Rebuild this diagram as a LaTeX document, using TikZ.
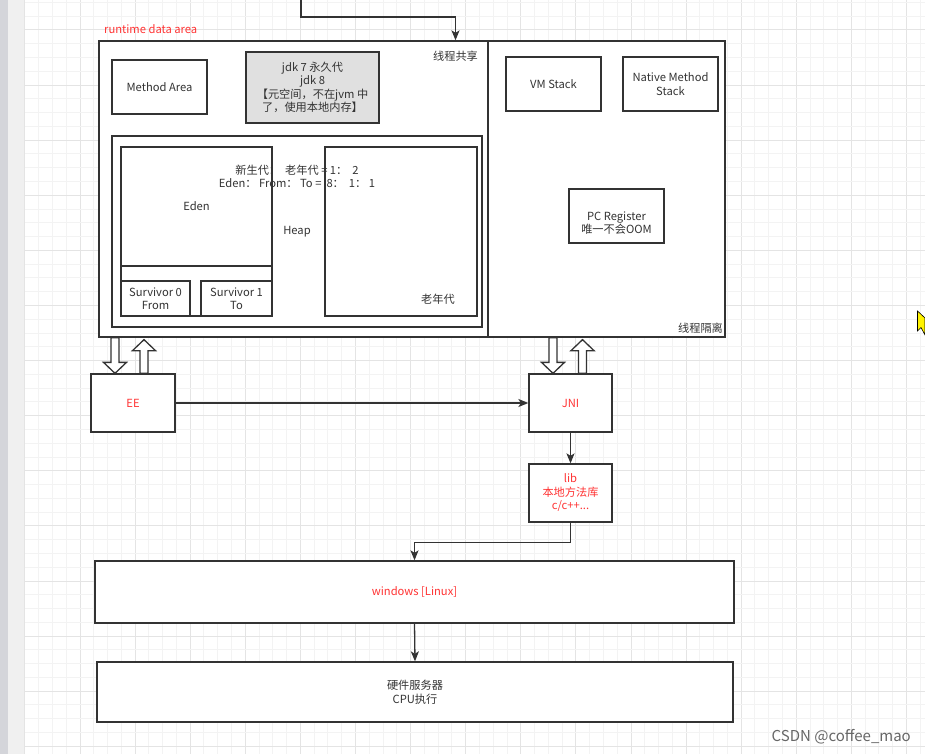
\documentclass[tikz,border=0pt]{standalone}
\usepackage{fontspec}
\setmainfont{Noto Sans CJK SC}
\usetikzlibrary{arrows.meta,calc}

\definecolor{inkgray}{HTML}{333333}
\definecolor{notered}{HTML}{FF3333}
\definecolor{jdkgray}{HTML}{E0E0E0}
\definecolor{gridminor}{HTML}{F3F3F3}
\definecolor{gridmajor}{HTML}{E4E4E4}
\definecolor{sidebar}{HTML}{D4D5DA}
\definecolor{sidepad}{HTML}{F0F0F0}

% hollow block arrow between two points on one vertical
\newcommand\fatarrow[2]{%
  \draw[hollow] let \p1=(#1), \p2=(#2), \n1={sign(\y2-\y1)} in
    ({\x1-4pt},\y1) -- ({\x1-4pt},{\y2-11pt*(\n1)}) -- ({\x1-11.5pt},{\y2-11pt*(\n1)})
    -- (\x1,\y2) -- ({\x1+11.5pt},{\y2-11pt*(\n1)}) -- ({\x1+4pt},{\y2-11pt*(\n1)})
    -- ({\x1+4pt},\y1) -- cycle;}

\begin{document}
\begin{tikzpicture}[x=1pt,y=-1pt,
    box/.style={draw=inkgray, line width=1.3pt, fill=white, inner sep=0pt,
      align=center, text=inkgray, font=\fontsize{11.2}{13.5}\selectfont},
    note/.style={text=inkgray, align=center, inner sep=0pt,
      font=\fontsize{11.2}{13.5}\selectfont},
    flow/.style={draw=inkgray, line width=1.3pt,
      -{Stealth[length=10pt,width=8pt,inset=2.5pt]}},
    hollow/.style={draw=inkgray, line width=1.3pt, fill=white}]
  \useasboundingbox (0,0) rectangle (925,754);
  \clip (0,0) rectangle (925,754);

  % canvas
  \fill [white]   (0,0) rectangle (925,754);
  \fill [sidebar] (0,0) rectangle (8,754);
  \fill [sidepad] (8,0) rectangle (25,754);
  \foreach \i in {0,...,65}{
    \pgfmathtruncatemacro\m{mod(\i,4)}
    \ifnum\m=0 \def\gc{gridmajor}\else \def\gc{gridminor}\fi
    \draw [\gc, line width=1pt] ({24.9+13.775*\i},0) -- ({24.9+13.775*\i},754);
  }
  \foreach \j in {2,...,56}{
    \pgfmathtruncatemacro\m{mod(\j,4)}
    \ifnum\m=0 \def\gc{gridmajor}\else \def\gc{gridminor}\fi
    \draw [\gc, line width=1pt] (25,{-25.1+13.775*\j}) -- (925,{-25.1+13.775*\j});
  }

  % runtime data area
  \node [note, text=notered, anchor=west] (rtlabel) at (104,29) {runtime data area};
  \node [box, minimum width=389, minimum height=296] (shared)   at (293.5,189) {};
  \node [box, minimum width=237, minimum height=296] (isolated) at (606.5,189) {};
  \node [note] (sharedlabel)   at (455.5,56)  {线程共享};
  \node [note] (isolatedlabel) at (700.5,328) {线程隔离};

  \node [box, minimum width=95, minimum height=54] (methodarea) at (159.5,87) {Method Area};
  \node [box, fill=jdkgray, minimum width=133, minimum height=71] (jdk) at (312.5,87.5)
    {jdk 7 永久代\\jdk 8\\【元空间，不在jvm 中\\了，使用本地内存】};

  % heap
  \node [box, minimum width=370, minimum height=191] (heap)  at (297,231.5) {Heap};
  \node [box, minimum width=151, minimum height=169] (young) at (196.5,231.5) {};
  \node [box, minimum width=151, minimum height=119] (eden)  at (196.5,206.5) {Eden};
  \node [box, minimum width=69,  minimum height=35]  (s0)    at (155.5,298.5) {Survivor 0\\From};
  \node [box, minimum width=71,  minimum height=35]  (s1)    at (236.5,298.5) {Survivor 1\\To};
  \node [box, minimum width=152, minimum height=169] (old)   at (401,231.5) {};
  \node [note] (oldlabel) at (438,299) {老年代};
  \node [note] (ratio) at (297,176.5)
    {新生代：\ \ 老年代 = 1：\ \ 2\\Eden：\ From：\ To = \ 8：\ \ 1：\ 1};

  % thread private
  \node [box, minimum width=95, minimum height=54] (vmstack)     at (553.5,84)  {VM Stack};
  \node [box, minimum width=95, minimum height=54] (nativestack) at (670.5,84)  {Native Method\\Stack};
  \node [box, minimum width=95, minimum height=54] (pcreg)       at (616.5,216) {};
  \node [note] (pclabel) at ([yshift=-7]pcreg.center) {PC Register\\唯一不会OOM};

  % engine and native side
  \node [box, text=notered, minimum width=84, minimum height=58] (ee)  at (133,403)   {EE};
  \node [box, text=notered, minimum width=83, minimum height=58] (jni) at (570.5,403) {JNI};
  \node [box, text=notered, minimum width=83, minimum height=58] (lib) at (570.5,493)
    {lib\\本地方法库\\c/c++...};

  \node [box, text=notered, minimum width=639, minimum height=62] (windows)  at (414.5,592) {windows [Linux]};
  \node [box, minimum width=636, minimum height=60]                (hardware) at (415,692)   {硬件服务器\\CPU执行};

  % connectors
  \coordinate (topin) at (301,0);
  \draw [flow] (topin) -- (301,17) -| ([xshift=162]shared.north);
  \fatarrow{shared.south -| 115,0}{ee.north -| 115,0}
  \fatarrow{ee.north -| 144,0}{[yshift=-2]shared.south -| 144,0}
  \fatarrow{isolated.south -| 553,0}{jni.north -| 553,0}
  \fatarrow{jni.north -| 582.5,0}{[yshift=-2]isolated.south -| 582.5,0}
  \draw [flow] (ee.east) -- (jni.west);
  \draw [flow] (jni.south) -- (lib.north);
  \draw [flow] (lib.south) -- ++(0,20) -| (windows.north);
  \draw [flow] (windows.south) -- (hardware.north);

  % pointer and watermark
  \filldraw [fill=yellow, draw=black, line width=0.6pt]
    (917.5,311) -- (917.5,331) -- (921,327.5) -- (925,335) -- (925,318) -- cycle;
  \node [note, text=black!60, font=\fontsize{15}{17}\selectfont, anchor=east] (mark)
    at (911,737) {CSDN @coffee\_mao};
\end{tikzpicture}
\end{document}
